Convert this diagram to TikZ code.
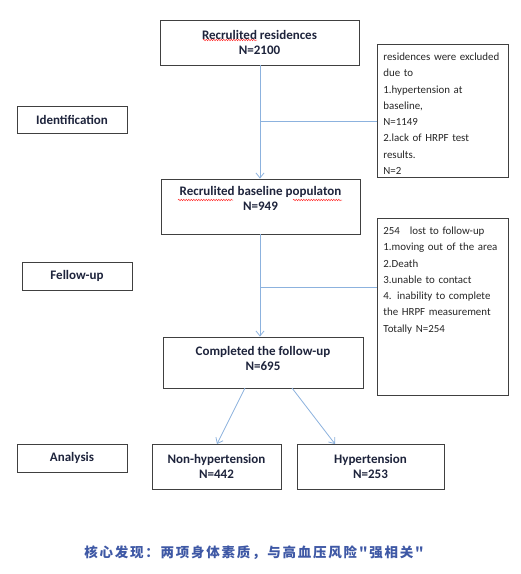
\documentclass[tikz,border=0pt]{standalone}
\usepackage{fontspec}
\setmainfont{Carlito}
\newfontfamily\cjkfont[LetterSpace=13]{Noto Sans CJK SC}
\usetikzlibrary{arrows.meta,decorations.pathmorphing}
\definecolor{boxline}{RGB}{64,64,64}
\definecolor{arrowblue}{RGB}{140,178,222}
\definecolor{textnavy}{RGB}{30,36,60}
\definecolor{noteblue}{RGB}{62,88,165}
\begin{document}
\begin{tikzpicture}[x=1pt,y=-1pt,
 box/.style={draw=boxline, line width=0.8pt, align=center, text=textnavy, font=\bfseries\fontsize{13}{15}\selectfont, inner sep=0pt},
 note/.style={draw=boxline, line width=0.8pt, align=left, text=black!85, font=\fontsize{10.9}{16.3}\selectfont, anchor=north west, text width=119pt, inner xsep=6pt, inner ysep=5pt, text height=11pt},
 flow/.style={draw=arrowblue, line width=0.8pt},
 flowarrow/.style={flow, -{Straight Barb[length=5pt,width=8pt]}},
 squiggle/.style={draw=red!80, line width=0.5pt, decorate, decoration={snake, amplitude=0.7pt, segment length=2.5pt}}
]
\useasboundingbox (0,0) rectangle (521,574);
\fill[white] (0,0) rectangle (521,574);

\node[box, minimum width=199pt, minimum height=45pt] (r1) at (259.5,42.5) {Recrulited residences\\N=2100};
\node[box, minimum width=199pt, minimum height=55pt, text depth=17pt] (r2) at (260.5,206.5) {Recrulited baseline populaton\\N=949};
\node[box, minimum width=200pt, minimum height=51pt, text depth=9pt] (comp) at (263,362.5) {Completed the follow-up\\N=695};
\node[box, minimum width=129pt, minimum height=45pt] (nonhyp) at (216.5,466.5) {Non-hypertension\\N=442};
\node[box, minimum width=147pt, minimum height=45pt] (hyp) at (370.5,466.5) {Hypertension\\N=253};

\node[box, minimum width=110pt, minimum height=27pt] (ident) at (72,119.5) {Identification};
\node[box, minimum width=110pt, minimum height=28pt] (fellow) at (77,276) {Fellow-up};
\node[box, minimum width=110pt, minimum height=28pt] (analysis) at (72,458) {Analysis};

\node[note, text depth=112pt] (ex1) at (377,44) {residences were excluded\\due to\\1.hypertension at\\baseline,\\N=1149\\2.lack of HRPF test\\results.\\N=2};
\node[note, text depth=156pt] (ex2) at (377,218) {254\hspace{10pt}lost to follow-up\\1.moving out of the area\\2.Death\\3.unable to contact\\4. inability to complete\\the HRPF measurement\\Totally N=254};

\coordinate (j1) at (260,121);
\coordinate (j2) at (260,287);
\draw[flowarrow] (r1.south -| j1) -- (r2.north -| j1);
\draw[flow] (j1) -- (j1 -| ex1.west);
\draw[flowarrow] (r2.south -| j2) -- (comp.north -| j2);
\draw[flow] (j2) -- (j2 -| ex2.west);

\coordinate (d1s) at (245,388);
\coordinate (d1e) at (217,444);
\coordinate (d2s) at (292,388);
\coordinate (d2e) at (335,444);
\draw[flowarrow] (d1s) -- (d1e);
\draw[flowarrow] (d2s) -- (d2e);

\draw[squiggle] (203,40) -- (257,40);
\draw[squiggle] (178,200) -- (233,200);
\draw[squiggle] (293,200) -- (342,200);

\node[text=noteblue, font=\cjkfont\bfseries\fontsize{13.5}{16}\selectfont] (finding) at (254,553) {核心发现：两项身体素质，与高血压风险"强相关"};
\end{tikzpicture}
\end{document}
